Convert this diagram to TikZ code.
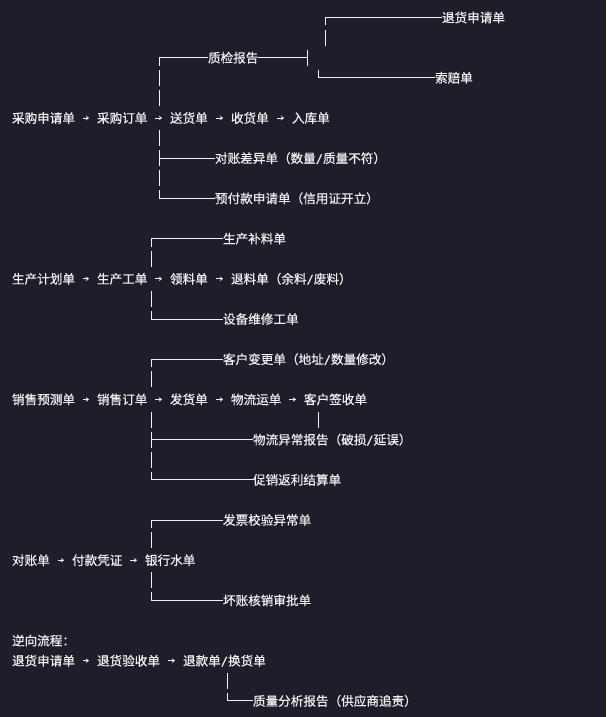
\documentclass[tikz,border=0pt]{standalone}
\usepackage{fontspec}
\setmainfont{Noto Sans CJK SC}[FakeBold=0.5]
\newfontfamily\monofont{DejaVu Sans Mono}[FakeBold=0.4]
\usetikzlibrary{arrows.meta}
\definecolor{bgc}{RGB}{29,30,41}
\definecolor{fgc}{RGB}{240,240,242}
\newcommand\sla{{\monofont\fontsize{12pt}{12pt}\selectfont /}}
\newcommand\vglyph[2]{\draw[lnk] (#1,#2-8) -- (#1,#2+8);}
\begin{document}
\begin{tikzpicture}[x=1pt,y=-1pt,
  doc/.style={font=\fontsize{12.6pt}{14pt}\selectfont, text=fgc, inner sep=0pt, outer sep=0pt, anchor=west, text height=10.5pt, text depth=0.9pt},
  lnk/.style={draw=fgc, line width=1pt},
  flow/.style={draw=fgc, line width=1pt, -{Stealth[length=3pt,width=4.5pt]}, shorten <=8pt, shorten >=8pt}]
\fill[bgc] (0,0) rectangle (606,717);
\useasboundingbox (0,0) rectangle (606,717);

% ---------- Section 1: purchase ----------
\node[doc] (p1) at (12,118) {采购申请单};
\node[doc] (p2) at (97,118) {采购订单};
\node[doc] (p3) at (170,118) {送货单};
\node[doc] (p4) at (231,118) {收货单};
\node[doc] (p5) at (292,118) {入库单};
\draw[flow] (p1) -- (p2);
\draw[flow] (p2) -- (p3);
\draw[flow] (p3) -- (p4);
\draw[flow] (p4) -- (p5);

\node[doc] (q1) at (208,57.7) {质检报告};
\node[doc] (q2) at (442,17.5) {退货申请单};
\node[doc] (q3) at (435,77.8) {索赔单};
\node[doc] (q4) at (215,158.2) {对账差异单（数量\sla 质量不符）};
\node[doc] (q5) at (215,198.4) {预付款申请单（信用证开立）};

\draw[lnk] (159,65.7) |- (q1.west);
\draw[lnk] (q1.east) -- (307,57.7);
\vglyph{307}{57.7}
\draw[lnk] (325,25.5) |- (q2.west);
\vglyph{325}{37.6}
\draw[lnk] (318,69.8) |- (q3.west);
\vglyph{159}{77.8}
\vglyph{159}{97.9}
\vglyph{159}{138.1}
\vglyph{159}{158.2}
\draw[lnk] (159,158.2) -- (q4.west);
\vglyph{159}{178.3}
\draw[lnk] (159,190.4) |- (q5.west);

% ---------- Section 2: production ----------
\node[doc] (s1) at (12,278.8) {生产计划单};
\node[doc] (s2) at (97,278.8) {生产工单};
\node[doc] (s3) at (170,278.8) {领料单};
\node[doc] (s4) at (231,278.8) {退料单（余料\sla 废料）};
\draw[flow] (s1) -- (s2);
\draw[flow] (s2) -- (s3);
\draw[flow] (s3) -- (s4);
\node[doc] (t1) at (223,238.6) {生产补料单};
\node[doc] (t2) at (223,319) {设备维修工单};
\draw[lnk] (151,246.6) |- (t1.west);
\vglyph{151}{258.7}
\vglyph{151}{298.9}
\draw[lnk] (151,311) |- (t2.west);

% ---------- Section 3: sales ----------
\node[doc] (m1) at (12,399.4) {销售预测单};
\node[doc] (m2) at (97,399.4) {销售订单};
\node[doc] (m3) at (170,399.4) {发货单};
\node[doc] (m4) at (231,399.4) {物流运单};
\node[doc] (m5) at (304,399.4) {客户签收单};
\draw[flow] (m1) -- (m2);
\draw[flow] (m2) -- (m3);
\draw[flow] (m3) -- (m4);
\draw[flow] (m4) -- (m5);
\node[doc] (n1) at (223,359.2) {客户变更单（地址\sla 数量修改）};
\node[doc] (n2) at (253,439.6) {物流异常报告（破损\sla 延误）};
\node[doc] (n3) at (253,479.8) {促销返利结算单};
\draw[lnk] (151,367.2) |- (n1.west);
\vglyph{151}{379.3}
\vglyph{151}{419.5}
\vglyph{151}{439.6}
\draw[lnk] (151,439.6) -- (n2.west);
\vglyph{151}{459.7}
\draw[lnk] (151,471.8) |- (n3.west);
\vglyph{318}{419.5}

% ---------- Section 4: finance ----------
\node[doc] (f1) at (12,560.2) {对账单};
\node[doc] (f2) at (72,560.2) {付款凭证};
\node[doc] (f3) at (145,560.2) {银行水单};
\draw[flow] (f1) -- (f2);
\draw[flow] (f2) -- (f3);
\node[doc] (g1) at (223,520) {发票校验异常单};
\node[doc] (g2) at (223,600.4) {坏账核销审批单};
\draw[lnk] (151,528) |- (g1.west);
\vglyph{151}{540.1}
\vglyph{151}{580.3}
\draw[lnk] (151,592.4) |- (g2.west);

% ---------- Section 5: reverse flow ----------
\node[doc] (rt) at (12,640.6) {逆向流程：};
\node[doc] (r1) at (12,660.7) {退货申请单};
\node[doc] (r2) at (97,660.7) {退货验收单};
\node[doc] (r3) at (183,660.7) {退款单\sla 换货单};
\draw[flow] (r1) -- (r2);
\draw[flow] (r2) -- (r3);
\node[doc] (r4) at (253,700.9) {质量分析报告（供应商追责）};
\vglyph{227}{680.8}
\draw[lnk] (227,692.9) |- (r4.west);
\end{tikzpicture}
\end{document}
